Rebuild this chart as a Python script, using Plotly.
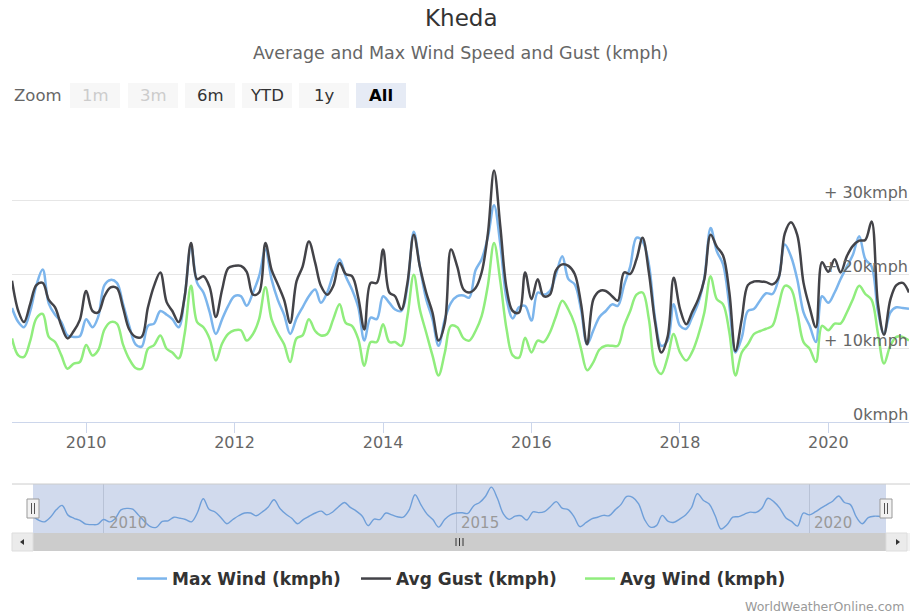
import pandas as pd
import plotly.graph_objects as go

# ---------------- data (monthly, Jan 2009 - Feb 2021) ----------------
start_month = "2009-01-01"
max_wind = [
    15.4, 13.5, 12.8, 15.0, 18.5, 20.6, 16.0, 14.5, 13.5, 11.7, 11.5, 11.6,   # 2009
    13.9, 12.8, 14.2, 18.5, 19.2, 18.8, 16.0, 13.0, 10.5, 10.2, 13.0, 13.3,   # 2010
    15.0, 14.5, 13.9, 12.8, 17.0, 23.8, 18.8, 17.5, 14.8, 11.9, 13.9, 15.7,   # 2011
    17.0, 17.0, 15.7, 17.5, 19.7, 23.3, 19.3, 16.5, 14.5, 11.9, 14.0, 15.5,   # 2012
    17.0, 17.9, 16.1, 17.5, 20.0, 22.0, 19.7, 17.9, 15.5, 11.0, 14.1, 13.9,   # 2013
    17.0, 16.1, 15.2, 15.0, 18.4, 25.7, 21.0, 16.6, 13.9, 10.3, 13.9, 16.1,   # 2014
    17.0, 17.1, 16.8, 20.5, 22.0, 25.0, 29.3, 24.0, 16.6, 14.0, 15.5, 15.7,   # 2015
    13.7, 17.5, 17.2, 17.7, 20.0, 22.4, 19.3, 18.6, 15.2, 10.5, 12.4, 14.2,   # 2016
    15.0, 15.9, 15.7, 18.5, 21.0, 24.9, 24.4, 21.3, 13.9, 10.3, 11.0, 15.9,   # 2017
    13.0, 12.6, 14.1, 16.1, 19.5, 26.2, 23.1, 21.3, 15.7, 9.4, 11.4, 15.0,    # 2018
    15.3, 16.5, 17.4, 17.3, 19.3, 24.0, 22.4, 19.3, 14.8, 13.0, 10.8, 17.0,   # 2019
    16.1, 17.5, 19.3, 21.0, 22.6, 25.1, 22.0, 21.0, 15.0, 11.9, 14.8, 15.5,   # 2020
    15.4, 15.3,                                                             # 2021
]
avg_gust = [
    19.1, 15.0, 13.5, 16.0, 18.5, 18.8, 16.5, 15.5, 13.0, 11.3, 12.3, 13.8,
    17.7, 15.0, 14.8, 17.0, 18.2, 18.1, 15.5, 12.5, 11.5, 11.5, 15.5, 18.4,
    20.2, 16.2, 15.0, 13.5, 17.0, 24.2, 19.3, 19.7, 18.2, 14.2, 17.9, 20.8,
    21.1, 21.1, 20.3, 17.2, 17.5, 24.2, 20.6, 18.6, 16.5, 13.4, 19.0, 21.0,
    24.4, 21.5, 18.4, 17.2, 18.4, 21.5, 20.0, 19.7, 16.8, 12.5, 18.8, 18.8,
    23.3, 17.5, 17.0, 15.2, 18.8, 25.3, 21.0, 17.5, 14.8, 11.0, 13.4, 23.3,
    21.0, 17.9, 17.5, 18.1, 20.2, 25.5, 34.0, 26.4, 18.0, 15.0, 14.8, 20.2,
    16.6, 19.3, 17.0, 17.2, 20.5, 21.3, 21.1, 20.0, 16.0, 10.5, 16.6, 17.7,
    17.7, 17.0, 16.4, 20.2, 20.0, 22.0, 24.9, 20.2, 13.4, 9.4, 11.5, 19.5,
    15.3, 13.2, 14.8, 16.6, 19.3, 25.3, 23.7, 22.5, 17.5, 9.6, 13.9, 18.5,
    19.0, 19.0, 18.9, 18.6, 19.5, 25.5, 27.0, 25.3, 18.8, 15.5, 12.8, 21.6,
    20.3, 22.0, 20.2, 22.4, 23.8, 24.5, 24.6, 27.1, 16.0, 11.8, 16.5, 18.5,
    18.8, 17.5,
]
avg_wind = [
    11.3, 9.0, 8.8, 11.0, 14.0, 14.6, 11.5, 10.8, 9.0, 7.2, 7.9, 8.1,
    10.4, 9.0, 9.7, 12.5, 13.5, 13.3, 10.5, 8.5, 7.3, 7.2, 9.9, 10.4,
    11.7, 9.9, 9.4, 8.6, 12.0, 18.4, 13.5, 12.8, 11.2, 8.3, 10.6, 11.9,
    12.4, 12.4, 11.0, 11.9, 13.9, 18.2, 13.9, 12.0, 10.5, 8.1, 11.3, 11.7,
    13.9, 12.3, 11.7, 11.9, 13.9, 15.9, 13.4, 13.0, 11.2, 7.6, 10.8, 10.8,
    13.2, 10.8, 10.8, 10.3, 14.3, 19.9, 15.2, 12.1, 9.0, 6.3, 9.4, 13.0,
    12.8, 11.3, 11.0, 12.3, 14.3, 18.5, 24.2, 19.0, 12.5, 9.0, 8.7, 11.4,
    9.4, 11.0, 10.8, 12.1, 14.3, 16.4, 15.2, 13.2, 9.9, 7.0, 8.1, 9.8,
    10.3, 10.3, 10.3, 13.0, 15.0, 17.2, 17.5, 13.9, 7.6, 6.5, 8.7, 11.9,
    9.4, 8.3, 9.4, 11.7, 14.8, 19.7, 16.6, 15.9, 12.1, 6.3, 9.4, 10.5,
    11.9, 12.3, 12.6, 13.0, 15.7, 18.4, 18.0, 14.8, 10.8, 9.9, 8.1, 13.0,
    12.4, 13.3, 13.3, 14.8, 16.6, 18.4, 17.3, 16.5, 12.0, 7.9, 10.3, 11.5,
    11.5, 11.0,
]
series_names = ["Max Wind (kmph)", "Avg Gust (kmph)", "Avg Wind (kmph)"]
series_colors = ["#7cb5ec", "#434348", "#90ed7d"]
y_tick_values = [0, 10, 20, 30, 40]
y_tick_labels = ["0kmph", "+ 10kmph", "+ 20kmph", "+ 30kmph", ""]
x_tick_years = [2010, 2012, 2014, 2016, 2018, 2020]
nav_tick_years = [2010, 2015, 2020]
zoom_buttons = ["1m", "3m", "6m", "YTD", "1y", "All"]

dates = pd.date_range(start_month, periods=len(max_wind), freq="MS")

# ---------------- geometry helpers ----------------
W, H = 912, 614
def px(x):
    return x / W
def py(y):
    return 1 - y / H

FONT = "DejaVu Sans"
fig = go.Figure()

for vals, name, col in zip([max_wind, avg_gust, avg_wind], series_names, series_colors):
    fig.add_trace(go.Scatter(
        x=dates, y=vals, name=name, mode="lines",
        line=dict(color=col, width=2.5, shape="spline", smoothing=1.0),
        xaxis="x", yaxis="y",
    ))

# navigator series
fig.add_trace(go.Scatter(
    x=dates, y=max_wind, mode="lines", showlegend=False, hoverinfo="skip",
    line=dict(color="#6f9fd9", width=1.4, shape="spline", smoothing=1.0),
    xaxis="x2", yaxis="y2",
))

shapes = []
annotations = []

# y-axis labels (Highcharts style: right aligned, sitting above each grid line)
for v, t in zip(y_tick_values, y_tick_labels):
    if t:
        annotations.append(dict(xref="paper", yref="y", x=px(910), y=v, text=t,
                                showarrow=False, xanchor="right", yanchor="middle",
                                yshift=8, font=dict(family=FONT, size=16, color="#666666")))

# navigator mask and outline
shapes.append(dict(type="rect", xref="paper", yref="paper", layer="below",
                   x0=px(33), x1=px(886), y0=py(533), y1=py(484),
                   fillcolor="rgba(102,133,194,0.3)", line=dict(width=0)))
shapes.append(dict(type="line", xref="paper", yref="paper",
                   x0=px(12), x1=px(910), y0=py(484), y1=py(484),
                   line=dict(color="#cccccc", width=1)))
# handles
for cx in (33, 886):
    shapes.append(dict(type="rect", xref="paper", yref="paper",
                       x0=px(cx - 6), x1=px(cx + 6), y0=py(518), y1=py(499),
                       fillcolor="#f2f2f2", line=dict(color="#999999", width=1)))
    for dx in (-1.5, 1.5):
        shapes.append(dict(type="line", xref="paper", yref="paper",
                           x0=px(cx + dx), x1=px(cx + dx), y0=py(514), y1=py(503),
                           line=dict(color="#555555", width=1)))
# scrollbar
shapes.append(dict(type="rect", xref="paper", yref="paper",
                   x0=px(12), x1=px(910), y0=py(551), y1=py(533),
                   fillcolor="#f2f2f2", line=dict(width=0)))
shapes.append(dict(type="rect", xref="paper", yref="paper",
                   x0=px(33), x1=px(886), y0=py(551), y1=py(533),
                   fillcolor="#cccccc", line=dict(width=0)))
for bx0, bx1 in ((12, 33), (886, 907)):
    shapes.append(dict(type="rect", xref="paper", yref="paper",
                       x0=px(bx0), x1=px(bx1), y0=py(551), y1=py(533),
                       fillcolor="#ebebeb", line=dict(color="#dddddd", width=1)))
# arrows
def tri(points):
    path = "M " + " L ".join(f"{px(a)},{py(b)}" for a, b in points) + " Z"
    return dict(type="path", xref="paper", yref="paper", path=path,
                fillcolor="#333333", line=dict(width=0))
shapes.append(tri([(20, 542), (24, 539), (24, 545)]))
shapes.append(tri([(900, 542), (896, 539), (896, 545)]))
for rx in (456, 459.5, 463):
    shapes.append(dict(type="line", xref="paper", yref="paper",
                       x0=px(rx), x1=px(rx), y0=py(546), y1=py(538),
                       line=dict(color="#333333", width=1)))

# range selector buttons
btn_x = [70, 128, 185, 242, 299, 356]
for label, bx in zip(zoom_buttons, btn_x):
    selected = label == "All"
    disabled = label in ("1m", "3m")
    shapes.append(dict(type="rect", xref="paper", yref="paper",
                       x0=px(bx), x1=px(bx + 50), y0=py(108), y1=py(83),
                       fillcolor="#e6ebf5" if selected else "#f7f7f7",
                       line=dict(width=0)))
    annotations.append(dict(xref="paper", yref="paper", x=px(bx + 25), y=py(96),
                            text=label, showarrow=False, xanchor="center", yanchor="middle",
                            font=dict(family=FONT, size=16.5,
                                      color="#cccccc" if disabled else ("#000000" if selected else "#333333"),
                                      weight="bold" if selected else "normal")))
annotations.append(dict(xref="paper", yref="paper", x=px(12), y=py(96), text="Zoom",
                        showarrow=False, xanchor="left", yanchor="middle",
                        font=dict(family=FONT, size=16.5, color="#666666")))

# titles
annotations.append(dict(xref="paper", yref="paper", x=px(461), y=py(18), text="Kheda",
                        showarrow=False, xanchor="center", yanchor="middle",
                        font=dict(family=FONT, size=23, color="#333333")))
annotations.append(dict(xref="paper", yref="paper", x=px(460), y=py(53),
                        text="Average and Max Wind Speed and Gust (kmph)",
                        showarrow=False, xanchor="center", yanchor="middle",
                        font=dict(family=FONT, size=17.5, color="#666666")))
# credits
annotations.append(dict(xref="paper", yref="paper", x=px(906), y=py(606),
                        text="WorldWeatherOnline.com", showarrow=False,
                        xanchor="right", yanchor="middle",
                        font=dict(family=FONT, size=12.5, color="#999999")))
# navigator axis labels
for yr in nav_tick_years:
    annotations.append(dict(xref="x2", yref="paper", x=f"{yr}-01-01", y=py(523),
                            text=str(yr), showarrow=False, xanchor="left", yanchor="middle",
                            xshift=3, font=dict(family=FONT, size=15, color="#999999")))

fig.update_layout(
    width=W, height=H,
    margin=dict(l=0, r=0, t=0, b=0, pad=0),
    paper_bgcolor="white", plot_bgcolor="rgba(0,0,0,0)",
    showlegend=True,
    legend=dict(orientation="h", x=px(132), xanchor="left", y=py(579), yanchor="middle",
                font=dict(family=FONT, size=17, color="#333333", weight="bold"),
                itemwidth=30, entrywidth=179, entrywidthmode="pixels",
                bgcolor="rgba(0,0,0,0)"),
    xaxis=dict(domain=[px(12), px(909)], range=[dates[0], dates[-1]], anchor="y",
               showgrid=False, zeroline=False, showline=True, linecolor="#ccd6eb", linewidth=1,
               ticks="outside", ticklen=10, tickcolor="#ccd6eb", ticklabelstandoff=-4,
               tickvals=[f"{y}-01-01" for y in x_tick_years], ticktext=[str(y) for y in x_tick_years],
               tickfont=dict(family=FONT, size=16, color="#666666")),
    yaxis=dict(domain=[py(422), py(126)], range=[0, 40], anchor="x", side="right",
               tickvals=y_tick_values, showticklabels=False,
               showgrid=True, gridcolor="#e6e6e6", gridwidth=1, zeroline=False, showline=False,
               ticks=""),
    xaxis2=dict(domain=[px(33), px(886)], range=[dates[0], dates[-1]], anchor="y2",
                showgrid=True, gridcolor="#b8c2d6", gridwidth=1,
                tickvals=[f"{y}-01-01" for y in nav_tick_years],
                showticklabels=False, zeroline=False, showline=False, ticks=""),
    yaxis2=dict(domain=[py(533), py(484)], range=[7.5, 30.8], anchor="x2",
                showgrid=False, showticklabels=False, zeroline=False, showline=False, ticks=""),
    shapes=shapes, annotations=annotations,
    hovermode="x",
)

fig.write_html("out.html", config={"displayModeBar": False},
               post_script="document.body.style.margin='0';document.body.style.overflow='hidden';")
